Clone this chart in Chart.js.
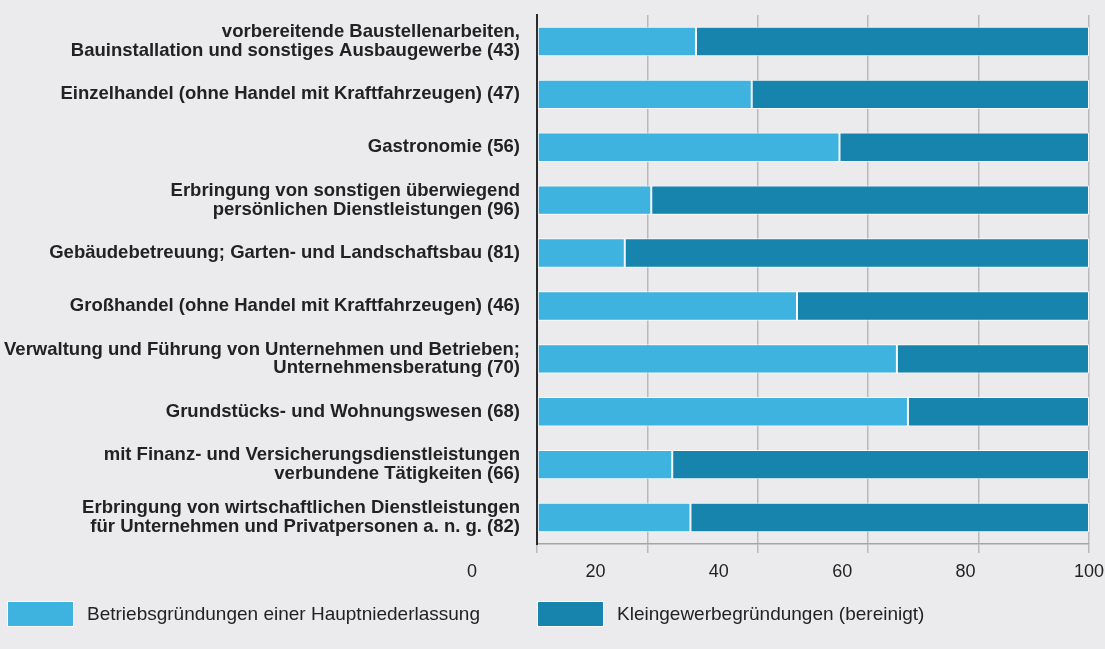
<!DOCTYPE html>
<html>
<head>
<meta charset="utf-8">
<script src="https://cdn.jsdelivr.net/npm/chart.js@4.4.1/dist/chart.umd.min.js"></script>
<style>
  html, body { margin: 0; padding: 0; background: #ebebee; }
  #wrap { position: relative; width: 1105px; height: 649px; }
  #chart { position: absolute; left: 0; top: 0; }
  .lg-box { position: absolute; width: 65px; height: 24px; border: 1px solid #ffffff; top: 601px; }
  .lg-text { position: absolute; top: 603px; font: 19px 'Liberation Sans', Arial, sans-serif; color: #222; line-height: 22px; white-space: nowrap; }
</style>
</head>
<body>
<div id="wrap">
  <canvas id="chart" width="1105" height="649"></canvas>
</div>
<script>
  const categories = [
    ['vorbereitende Baustellenarbeiten,', 'Bauinstallation und sonstiges Ausbaugewerbe (43)'],
    'Einzelhandel (ohne Handel mit Kraftfahrzeugen) (47)',
    'Gastronomie (56)',
    ['Erbringung von sonstigen überwiegend', 'persönlichen Dienstleistungen (96)'],
    'Gebäudebetreuung; Garten- und Landschaftsbau (81)',
    'Großhandel (ohne Handel mit Kraftfahrzeugen) (46)',
    ['Verwaltung und Führung von Unternehmen und Betrieben;', 'Unternehmensberatung (70)'],
    'Grundstücks- und Wohnungswesen (68)',
    ['mit Finanz- und Versicherungsdienstleistungen', 'verbundene Tätigkeiten (66)'],
    ['Erbringung von wirtschaftlichen Dienstleistungen', 'für Unternehmen und Privatpersonen a. n. g. (82)']
  ];
  const betriebsgruendungen = [28.8, 38.9, 54.8, 20.7, 15.9, 47.1, 65.2, 67.2, 24.5, 27.8];
  const kleingewerbe = [71.2, 61.1, 45.2, 79.3, 84.1, 52.9, 34.8, 32.8, 75.5, 72.2];
  const seriesNames = ['Betriebsgründungen einer Hauptniederlassung', 'Kleingewerbegründungen (bereinigt)'];
  const seriesColors = ['#3fb3df', '#1784ae'];
  const xTickValues = [0, 20, 40, 60, 80, 100];
  const xTickLabels = ['0', '20', '40', '60', '80', '100'];

  // the printed tick numbers sit on a wider span than the gridlines
  const LABEL_SHIFT = 65;

  const tickLabelPlugin = {
    id: 'shiftedTickLabels',
    afterDraw: function (chart) {
      const xs = chart.scales.x;
      const ctx = chart.ctx;
      const left = xs.left - LABEL_SHIFT;
      const span = xs.right - left;
      ctx.save();
      ctx.font = "18px 'Liberation Sans', Arial, sans-serif";
      ctx.fillStyle = '#222';
      ctx.textAlign = 'center';
      ctx.textBaseline = 'middle';
      xTickValues.forEach(function (v, i) {
        const x = left + (v - xs.min) / (xs.max - xs.min) * span;
        ctx.fillText(xTickLabels[i], x, xs.top + 28);
      });
      ctx.restore();
    }
  };

  const chart = new Chart(document.getElementById('chart'), {
    type: 'bar',
    data: {
      labels: categories,
      datasets: [
        { label: seriesNames[0], data: betriebsgruendungen, backgroundColor: seriesColors[0], borderColor: 'rgba(255,255,255,0.85)', borderWidth: 1, borderSkipped: false, barPercentage: 0.555, categoryPercentage: 1 },
        { label: seriesNames[1], data: kleingewerbe, backgroundColor: seriesColors[1], borderColor: 'rgba(255,255,255,0.85)', borderWidth: 1, borderSkipped: false, barPercentage: 0.555, categoryPercentage: 1 }
      ]
    },
    options: {
      indexAxis: 'y',
      responsive: false,
      animation: false,
      layout: { padding: { top: 15, right: 16, bottom: 65, left: 0 } },
      scales: {
        x: {
          stacked: true,
          min: 0,
          max: 100,
          grid: { color: '#b9b9bc', lineWidth: 1.5, tickLength: 9 },
          border: { color: '#a5a5a8', width: 1.5 },
          ticks: { stepSize: 20, color: 'rgba(0,0,0,0)', font: { size: 16 } },
          afterFit: function (s) { s.height = 40; s.paddingLeft = 0; s.paddingRight = 0; }
        },
        y: {
          stacked: true,
          grid: { display: false, drawTicks: false },
          border: { color: '#2a2a2a', width: 2 },
          ticks: {
            color: '#222',
            padding: 17,
            font: { family: "'Liberation Sans', Arial, sans-serif", size: 18.5, weight: 'bold', lineHeight: 1.02 }
          },
          afterFit: function (s) { s.width = 537; s.paddingTop = 0; s.paddingBottom = 0; }
        }
      },
      plugins: {
        legend: { display: false },
        tooltip: { enabled: false }
      }
    },
    plugins: [tickLabelPlugin]
  });

  // legend as html below the chart
  const wrap = document.getElementById('wrap');
  const legendX = [7, 537];
  seriesNames.forEach(function (name, i) {
    const box = document.createElement('div');
    box.className = 'lg-box';
    box.style.left = legendX[i] + 'px';
    box.style.background = seriesColors[i];
    wrap.appendChild(box);
    const txt = document.createElement('div');
    txt.className = 'lg-text';
    txt.style.left = (legendX[i] + 80) + 'px';
    txt.textContent = name;
    wrap.appendChild(txt);
  });
</script>
</body>
</html>
